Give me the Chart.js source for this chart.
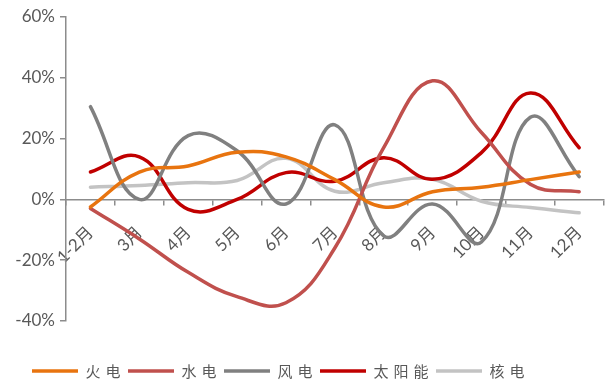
<!DOCTYPE html>
<html>
<head>
<meta charset="utf-8">
<script src="https://cdn.jsdelivr.net/npm/chart.js@4/dist/chart.umd.min.js"></script>
<style>
  html, body { margin: 0; padding: 0; background: #fff; }
  #wrap { width: 612px; height: 383px; }
</style>
</head>
<body>
<div id="wrap"><canvas id="myChart" width="612" height="383"></canvas></div>
<script>
// categories and series (percent)
let months = ["1-2月", "3月", "4月", "5月", "6月", "7月", "8月", "9月", "10月", "11月", "12月"];
let huoDian = [-2.5, 9, 11, 15.5, 14, 6.5, -2.5, 2.5, 4, 6.5, 9];
let shuiDian = [-3, -13, -24, -32, -34, -16, 17, 39, 22, 5, 2.5];
let fengDian = [30.5, 0, 21, 16, -1.5, 24.5, -12, -1.5, -14, 27, 7.5];
let taiYang = [9, 14, -3.3, 0, 8.8, 6, 13.7, 6.6, 15.4, 35, 17];
let heDian = [4, 4.6, 5.5, 6.2, 13.5, 2.7, 5.5, 6.6, -0.6, -2.7, -4.4];
let yTicks = [-40, -20, 0, 20, 40, 60];

let axisColor = "#8c8c8c";
let textColor = "#595959";

function line(label, values, color) {
  return {
    label: label,
    data: values,
    borderColor: color,
    backgroundColor: color,
    borderWidth: 3.5,
    borderCapStyle: "round",
    pointRadius: 0,
    tension: 0.42,
    fill: false
  };
}

// letter spacing for the legend text, and move it into place
let legendSpacing = {
  id: "legendSpacing",
  beforeLayout(chart) {
    let lg = chart.legend;
    if (!lg || lg._spaced) return;
    let fit = lg.fit.bind(lg);
    let draw = lg.draw.bind(lg);
    lg.fit = function () {
      chart.ctx.save();
      chart.ctx.letterSpacing = "5px";
      fit();
      chart.ctx.restore();
    };
    lg.draw = function () {
      chart.ctx.save();
      chart.ctx.letterSpacing = "5px";
      chart.ctx.translate(29.5, 5.5);
      draw();
      chart.ctx.restore();
    };
    lg._spaced = true;
  }
};

let ctx = document.getElementById("myChart").getContext("2d");
let myChart = new Chart(ctx, {
  type: "line",
  data: {
    labels: months,
    datasets: [
      line("火电", huoDian, "#E8740F"),
      line("水电", shuiDian, "#C0504D"),
      line("风电", fengDian, "#808080"),
      line("太阳能", taiYang, "#C00000"),
      line("核电", heDian, "#C3C3C3")
    ]
  },
  options: {
    responsive: false,
    animation: false,
    layout: { padding: { top: 17, left: 0, right: 0, bottom: 0 } },
    plugins: {
      legend: {
        position: "bottom",
        align: "start",
        labels: {
          usePointStyle: true,
          pointStyle: "line",
          pointStyleWidth: 46,
          padding: 2.5,
          color: textColor,
          font: { family: "'Noto Sans CJK SC', sans-serif", size: 15 }
        }
      },
      tooltip: { enabled: false }
    },
    scales: {
      x: {
        type: "category",
        position: { y: 0 },
        offset: true,
        grid: { offset: true, drawOnChartArea: false, drawTicks: true, tickLength: 5, color: axisColor, lineWidth: 1.5 },
        border: { color: axisColor, width: 1.5 },
        ticks: {
          minRotation: 45,
          maxRotation: 45,
          autoSkip: false,
          padding: 18,
          color: textColor,
          font: { family: "Lato, 'Noto Sans CJK SC', sans-serif", size: 17 }
        }
      },
      xGap: {
        type: "category",
        position: "bottom",
        display: true,
        grid: { display: false },
        border: { display: false },
        ticks: { display: false },
        afterFit(scale) { scale.height = 34.5; }
      },
      y: {
        min: -40,
        max: 60,
        afterFit(scale) { scale.width = 66; },
        afterBuildTicks(scale) { scale.ticks = yTicks.map(v => ({ value: v })); },
        grid: { drawOnChartArea: false, drawTicks: true, tickLength: 6, color: axisColor, lineWidth: 1.5 },
        border: { color: axisColor, width: 1.5 },
        ticks: {
          padding: 5,
          color: textColor,
          font: { family: "Lato, sans-serif", size: 17 },
          callback: v => v + "%"
        }
      }
    }
  },
  plugins: [legendSpacing]
});
</script>
</body>
</html>
